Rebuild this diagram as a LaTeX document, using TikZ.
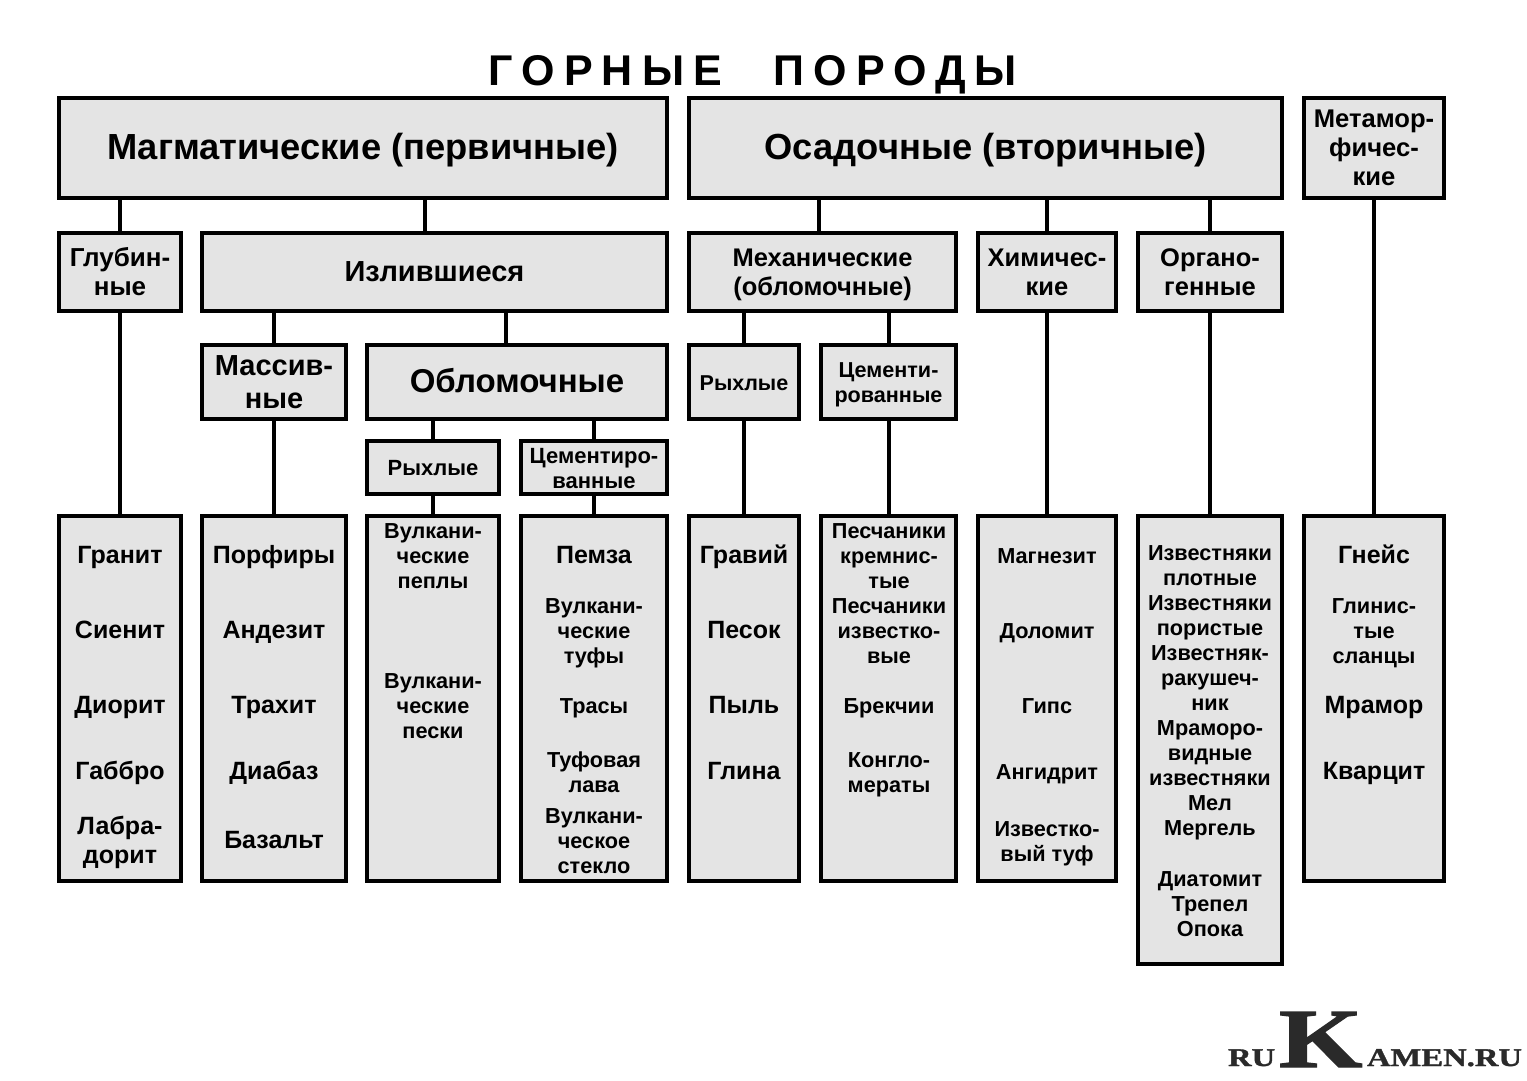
\documentclass[tikz,border=0pt]{standalone}
\usepackage{fontspec}
\setmainfont{Liberation Sans}
\newfontfamily\ttlfont[LetterSpace=21]{Liberation Sans Bold}
\newfontfamily\logofont[FakeBold=1.5,FakeStretch=1.28]{Liberation Serif Bold}
\definecolor{boxgray}{HTML}{E4E4E4}
\definecolor{logoink}{HTML}{2A2A2A}
\newcounter{lstno}
\newcommand{\fsz}[2]{\fontsize{#1}{#2}\selectfont\bfseries}
\newcommand{\topst}{\rule{0pt}{\dimexpr0.7\baselineskip+6pt\relax}}
% \bx{name}{x1}{y1}{x2}{y2}{size}{leading}{text}
\newcommand{\bx}[8]{%
  \pgfmathsetmacro{\bxw}{#4-#2}\pgfmathsetmacro{\bxh}{#5-#3}%
  \pgfmathsetmacro{\bxx}{(#2+#4)/2}\pgfmathsetmacro{\bxy}{(#3+#5)/2}%
  \node[rockbox,font=\fsz{#6}{#7},minimum width=\bxw pt,minimum height=\bxh pt] (#1) at (\bxx,\bxy)
    {\topst #8\strut};}
% \lst{x}{y}{size}{leading}{text}
\newcommand{\lst}[5]{%
  \stepcounter{lstno}%
  \node[rocktext,font=\fsz{#3}{#4}] (item\arabic{lstno}) at (#1,#2) {\topst #5\strut};}
\tikzset{
  rockbox/.style={draw=black,line width=4pt,fill=boxgray,align=center,inner sep=0pt,outer sep=0pt,text=black},
  rocktext/.style={align=center,inner sep=0pt,outer sep=0pt,text=black},
  link/.style={draw=black,line width=4pt},
  logotext/.style={inner sep=0pt,outer sep=0pt,text=logoink,anchor=base west}
}
\begin{document}
\begin{tikzpicture}[x=1pt,y=-1pt]
\useasboundingbox (0,0) rectangle (1527,1080);
\fill[white] (0,0) rectangle (1527,1080);
\node[inner sep=0pt] (title) at (753,75) {\ttlfont\fontsize{43}{50}\selectfont ГОРНЫЕ\hspace{52pt}ПОРОДЫ};
\bx{mag}{59}{98}{667}{198}{36.3}{40}{Магматические (первичные)}
\bx{osa}{689}{98}{1282}{198}{36.3}{40}{Осадочные (вторичные)}
\bx{met}{1304}{98}{1444}{198}{25.6}{29}{Метамор-\\фичес-\\кие}
\bx{glu}{59}{233}{181}{311}{26}{29}{Глубин-\\ные}
\bx{izl}{202}{233}{667}{311}{29}{32}{Излившиеся}
\bx{mex}{689}{233}{956}{311}{25.5}{29}{Механические\\(обломочные)}
\bx{him}{978}{233}{1116}{311}{25.5}{29}{Химичес-\\кие}
\bx{org}{1138}{233}{1282}{311}{25.5}{29}{Органо-\\генные}
\bx{mas}{202}{345}{346}{419}{29}{33}{Массив-\\ные}
\bx{obl}{367}{345}{667}{419}{33}{38}{Обломочные}
\bx{rxa}{689}{345}{799}{419}{21.5}{25}{Рыхлые}
\bx{cea}{821}{345}{956}{419}{21.6}{25}{Цементи-\\рованные}
\bx{rxb}{367}{441}{499}{494}{22}{25}{Рыхлые}
\bx{ceb}{521}{441}{667}{494}{22}{25}{}
\bx{la}{59}{516}{181}{881}{25}{29}{}
\bx{lb}{202}{516}{346}{881}{25}{29}{}
\bx{lc}{367}{516}{499}{881}{25}{29}{}
\bx{ld}{521}{516}{667}{881}{25}{29}{}
\bx{le}{689}{516}{799}{881}{25}{29}{}
\bx{lf}{821}{516}{956}{881}{25}{29}{}
\bx{lg}{978}{516}{1116}{881}{25}{29}{}
\bx{lh}{1138}{516}{1282}{964}{25}{29}{}
\bx{li}{1304}{516}{1444}{881}{25}{29}{}
% connectors
\draw[link] (glu.north |- mag.south) -- (glu.north);
\draw[link] ([xshift=-10pt]izl.north |- mag.south) -- ([xshift=-10pt]izl.north);
\draw[link] (mas.north |- izl.south) -- (mas.north);
\draw[link] ([xshift=-11pt]obl.north |- izl.south) -- ([xshift=-11pt]obl.north);
\draw[link] ([xshift=-3.5pt]mex.north |- osa.south) -- ([xshift=-3.5pt]mex.north);
\draw[link] (him.north |- osa.south) -- (him.north);
\draw[link] (org.north |- osa.south) -- (org.north);
\draw[link] (glu) -- (la);
\draw[link] (mas) -- (lb);
\draw[link] (rxb.north |- obl.south) -- (rxb.north);
\draw[link] (ceb.north |- obl.south) -- (ceb.north);
\draw[link] (rxb) -- (lc);
\draw[link] (ceb) -- (ld);
\draw[link] (rxa.north |- mex.south) -- (rxa.north);
\draw[link] (cea.north |- mex.south) -- (cea.north);
\draw[link] (rxa) -- (le);
\draw[link] (cea) -- (lf);
\draw[link] (him) -- (lg);
\draw[link] (org) -- (lh);
\draw[link] (met) -- (li);
% lists
\lst{594}{467.5}{22}{25}{Цементиро-\\ванные}
\lst{120}{555}{25}{29}{Гранит}
\lst{120}{630}{25}{29}{Сиенит}
\lst{120}{705}{25}{29}{Диорит}
\lst{120}{771}{25}{29}{Габбро}
\lst{120}{840.5}{25}{29}{Лабра-\\дорит}
\lst{274}{555}{25}{29}{Порфиры}
\lst{274}{630}{25}{29}{Андезит}
\lst{274}{705}{25}{29}{Трахит}
\lst{274}{771}{25}{29}{Диабаз}
\lst{274}{840}{25}{29}{Базальт}
\lst{433}{555}{21.7}{25}{Вулкани-\\ческие\\пеплы}
\lst{433}{705}{21.7}{25}{Вулкани-\\ческие\\пески}
\lst{594}{555}{25}{29}{Пемза}
\lst{594}{630}{21.7}{25}{Вулкани-\\ческие\\туфы}
\lst{594}{705}{21.7}{25}{Трасы}
\lst{594}{771.5}{21.7}{25}{Туфовая\\лава}
\lst{594}{840}{21.7}{25}{Вулкани-\\ческое\\стекло}
\lst{744}{555}{25}{29}{Гравий}
\lst{744}{630}{25}{29}{Песок}
\lst{744}{705}{25}{29}{Пыль}
\lst{744}{771}{25}{29}{Глина}
\lst{889}{555}{21.7}{25}{Песчаники\\кремнис-\\тые}
\lst{889}{630}{21.7}{25}{Песчаники\\известко-\\вые}
\lst{889}{705}{21.7}{25}{Брекчии}
\lst{889}{771.5}{21.7}{25}{Конгло-\\мераты}
\lst{1047}{555}{21.7}{25}{Магнезит}
\lst{1047}{630}{21.7}{25}{Доломит}
\lst{1047}{705}{21.7}{25}{Гипс}
\lst{1047}{771}{21.7}{25}{Ангидрит}
\lst{1047}{840.5}{21.7}{25}{Известко-\\вый туф}
\lst{1210}{564.5}{21.7}{25}{Известняки\\плотные}
\lst{1210}{614.5}{21.7}{25}{Известняки\\пористые}
\lst{1210}{677}{21.7}{25}{Известняк-\\ракушеч-\\ник}
\lst{1210}{752}{21.7}{25}{Мраморо-\\видные\\известняки}
\lst{1210}{802}{21.7}{25}{Мел}
\lst{1210}{827}{21.7}{25}{Мергель}
\lst{1210}{903}{21.7}{25}{Диатомит\\Трепел\\Опока}
\lst{1374}{555}{25}{29}{Гнейс}
\lst{1374}{630}{21.7}{25}{Глинис-\\тые\\сланцы}
\lst{1374}{705}{25}{29}{Мрамор}
\lst{1374}{771}{25}{29}{Кварцит}
% logo
\node[logotext] (logoa) at (1228,1066) {\logofont\fontsize{25.5}{26}\selectfont RU};
\node[logotext] (logob) at (1279,1067) {\raisebox{0pt}[\height][0pt]{\logofont\fontsize{84}{86}\selectfont K}};
\node[logotext] (logoc) at (1367,1066) {\logofont\fontsize{25.5}{26}\selectfont AMEN.RU};
\end{tikzpicture}
\end{document}
